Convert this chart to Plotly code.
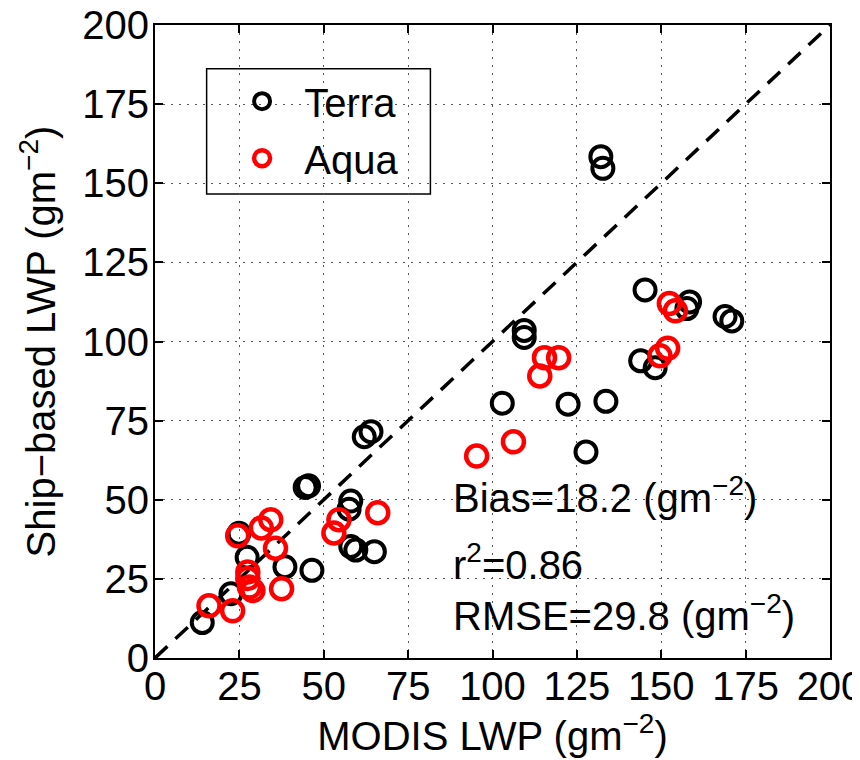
import plotly.graph_objects as go

# ---- data ----
terra_x = [14.0, 22.5, 24.9, 27.3, 38.5, 46.5, 44.5, 45.5, 57.5, 58.0, 58.0, 59.5, 65.0, 62.0, 64.0,
           102.9, 109.4, 109.4, 122.4, 127.7, 132.1, 132.7, 133.6, 145.2, 143.9, 148.2, 157.6, 158.4,
           168.9, 170.9]
terra_y = [11.2, 20.3, 39.4, 31.8, 28.8, 27.7, 53.9, 54.4, 47.0, 49.6, 35.2, 34.1, 33.6, 69.9, 71.5,
           80.5, 103.5, 101.3, 80.2, 65.1, 158.4, 154.7, 81.1, 116.3, 93.9, 91.7, 110.4, 112.5,
           107.9, 106.5]
aqua_x = [16.0, 23.0, 24.5, 27.5, 27.5, 28.0, 29.0, 31.5, 34.3, 35.7, 37.5, 53.0, 54.5, 66.0,
          95.3, 106.2, 114.0, 115.4, 119.6, 149.6, 151.9, 152.4, 154.2]
aqua_y = [16.5, 14.9, 38.6, 27.2, 25.1, 22.4, 21.3, 41.1, 43.7, 34.7, 21.9, 39.5, 43.7, 45.9,
          63.8, 68.3, 89.1, 94.9, 94.9, 95.5, 97.9, 112.0, 109.7]
one_to_one = [0, 200]
tick_vals = [0, 25, 50, 75, 100, 125, 150, 175, 200]
stats_text = ["Bias=18.2 (gm<sup>−2</sup>)", "r<sup>2</sup>=0.86", "RMSE=29.8 (gm<sup>−2</sup>)"]
stats_y = [51.6, 30.4, 14.2]
stats_x = 87.8

FONT = "Liberation Sans, Arial, Helvetica, sans-serif"
FS = 40

fig = go.Figure()
fig.add_trace(go.Scatter(x=one_to_one, y=one_to_one, mode="lines",
                         line=dict(color="black", width=3.5, dash="17px,11px"),
                         showlegend=False, hoverinfo="skip"))
fig.add_trace(go.Scatter(x=terra_x, y=terra_y, mode="markers", name="\u00a0\u00a0Terra",
                         legendgroup="t",
                         marker=dict(symbol="circle-open", size=21, color="black",
                                     line=dict(width=4, color="black"))))
fig.add_trace(go.Scatter(x=aqua_x, y=aqua_y, mode="markers", name="\u00a0\u00a0Aqua",
                         legendgroup="a",
                         marker=dict(symbol="circle-open", size=21, color="red",
                                     line=dict(width=4.5, color="red"))))

axis_common = dict(range=[0, 200], tickvals=tick_vals, ticks="inside", ticklen=8,
                   tickwidth=1.5, tickcolor="black", showline=True, linecolor="black",
                   linewidth=2, mirror="ticks", showgrid=True, gridcolor="#555555",
                   gridwidth=1, griddash="2px,6px", zeroline=False,
                   ticklabeloverflow="allow",
                   tickfont=dict(family=FONT, size=FS, color="black"))

fig.update_xaxes(**axis_common, ticklabelstandoff=-8,
                 title=dict(text="MODIS LWP (gm<sup>−2</sup>)", standoff=6,
                            font=dict(family=FONT, size=FS, color="black")))
fig.update_yaxes(**axis_common, ticklabelstandoff=-4,
                 title=dict(text="Ship−based LWP (gm<sup>−2</sup>)", standoff=14,
                            font=dict(family=FONT, size=FS, color="black")))

for txt, yy in zip(stats_text, stats_y):
    fig.add_annotation(x=stats_x, y=yy, text=txt, showarrow=False, xanchor="left",
                       yanchor="middle", font=dict(family=FONT, size=FS, color="black"))

# legend box
fig.add_shape(type="rect", xref="paper", yref="paper", x0=0.0765, x1=0.408, y0=0.733, y1=0.931,
              line=dict(color="black", width=1.5), fillcolor="white", layer="below")

# page has an 8px body margin: figure is 852x752 so the plot area sits at 155..822 x 25..650
fig.update_layout(
    width=852, height=752,
    margin=dict(l=147, r=30, t=17, b=102, autoexpand=False),
    paper_bgcolor="white", plot_bgcolor="white",
    font=dict(family=FONT, size=FS, color="black"),
    legend=dict(x=0.129, y=0.931, xanchor="left", yanchor="top", bgcolor="rgba(0,0,0,0)",
                borderwidth=0, tracegroupgap=2, font=dict(family=FONT, size=FS, color="black")),
)

fig.write_html("out.html")
